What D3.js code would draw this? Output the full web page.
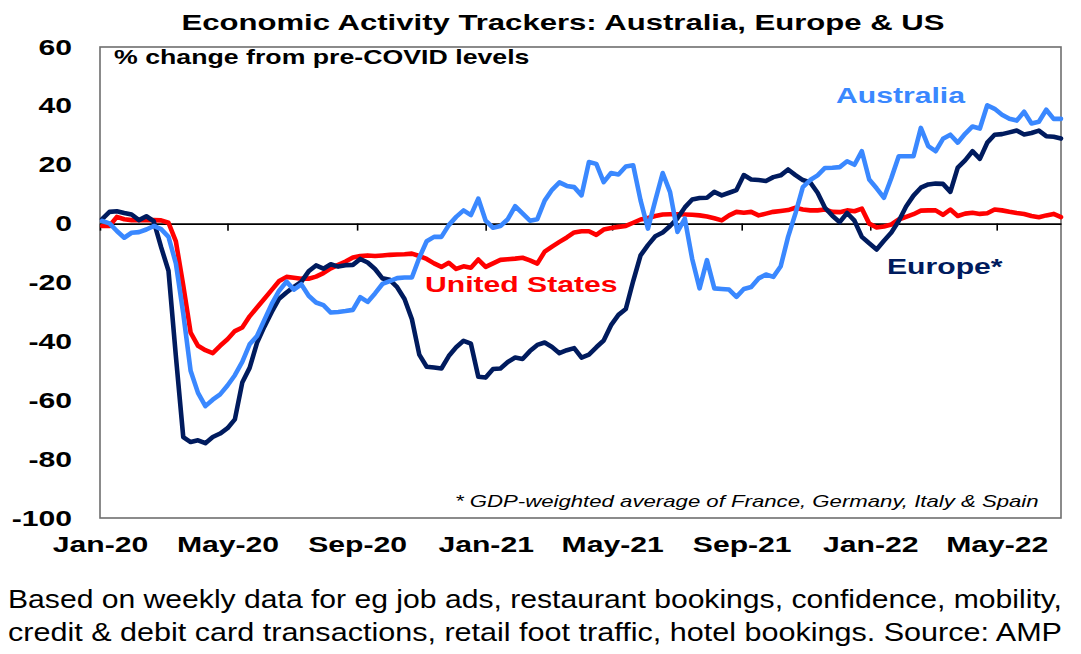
<!DOCTYPE html>
<html>
<head>
<meta charset="utf-8">
<script src="https://cdn.jsdelivr.net/npm/d3@7"></script>
<style>
  body { margin: 0; background: #fff; }
  svg { display: block; }
  text { font-family: "Liberation Sans", Arial, sans-serif; }
</style>
</head>
<body>
<svg width="1081" height="654"></svg>
<script>
"use strict";

// Data: weekly readings, % change from pre-COVID levels
const firstWeek = new Date(2020, 0, 3);

const australia = [
  0.9, 0.1, -2.5, -4.8, -3.1, -2.9, -2, -0.8, -1.9, -4.5,
  -13.5, -30.5, -50, -57.5, -62, -59.8, -58, -55, -51.5, -47,
  -41, -38.2, -32.7, -27.3, -22.8, -19.7, -22.4, -20.6, -24.5, -26.8,
  -27.7, -30.2, -30, -29.7, -29.3, -25, -26.6, -23.7, -20.5, -19.5,
  -18.5, -18.3, -18.3, -11.6, -6, -4.5, -4.5, -0.5, 2.3, 4.5,
  2.9, 8.5, 1, -1.4, -0.8, 1.5, 5.9, 3.5, 1, 1.5,
  7.8, 11.5, 14, 12.8, 12.4, 9.6, 20.9, 20.3, 14.1, 17.2,
  16.7, 19.4, 19.8, 7.9, -1.7, 7.9, 17.2, 10.7, -2.8, 1.7,
  -12, -22, -12.4, -22, -22.2, -22.4, -24.9, -22.2, -21.5, -18.6,
  -17.3, -18.1, -14.5, -4.5, 3.5, 12.4, 14.8, 16.4, 18.9, 19,
  19.2, 21.2, 20, 24.6, 15, 12, 8.8, 15.5, 22.9, 22.9,
  22.9, 32.5, 26.3, 24.6, 28.8, 30.2, 27.5, 30.5, 33, 32.3,
  40.2, 39, 37, 35.6, 35, 38, 34, 34.6, 38.7, 35.6, 35.6
];

const europe = [
  1.5, 4, 4.2, 3.6, 3.1, 1.2, 2.5, 0.8, -8, -16,
  -45, -72.5, -74.2, -73.6, -74.6, -72.5, -71.3, -69.5, -66.5, -54,
  -49, -40.5, -35, -30, -25.5, -23.4, -21.5, -19.8, -16.2, -14.2,
  -15.3, -13.8, -14.6, -14.1, -14, -12, -13.2, -15.4, -18.6, -19.1,
  -21.6, -25.6, -32.5, -44.5, -48.6, -48.9, -49.2, -45, -42, -39.8,
  -40.8, -52, -52.3, -49.4, -49.2, -47, -45.5, -46, -43.3, -41.2,
  -40.4, -41.9, -44, -43, -42.3, -45.5, -44.5, -42, -39.7, -34.5,
  -31, -29, -19.5, -10.8, -7.3, -4.3, -3, -0.8, 1.8, 5.5,
  8.2, 8.7, 8.8, 10.8, 9.6, 10.5, 11.4, 16.5, 15, 14.8,
  14.5, 15.8, 16.4, 18.4, 16.5, 14.8, 14, 10.5, 5.4, 2.7,
  0.5, 3.6, 1, -4.5, -6.7, -8.8, -5.8, -3, 0.9, 5.8,
  9.5, 12.2, 13.3, 13.6, 13.5, 10.8, 19, 21.5, 24.6, 22,
  27.5, 30.2, 30.4, 31, 31.6, 30.3, 30.8, 31.6, 29.7, 29.5, 28.9
];

const unitedStates = [
  -0.8, -0.8, 2.3, 1.5, 1.2, 1.2, 1.2, 1.2, 1.1, 0.3,
  -6, -21, -37, -41.5, -43, -44, -41.5, -39.3, -36.5, -35.3,
  -31.5, -28.5, -25.5, -22.5, -19.5, -18.1, -18.4, -18.7, -18.7, -18,
  -16.8, -15.2, -14, -12.9, -11.5, -11, -10.8, -11, -10.8, -10.6,
  -10.5, -10.4, -10.2, -11, -12, -13.5, -14.7, -13.3, -15.4, -14.5,
  -15, -12.2, -14.7, -13.5, -12.3, -12.1, -11.9, -11.6, -12.5, -13.6,
  -9.5, -7.8, -6.2, -4.7, -3, -2.6, -2.6, -3.8, -2, -1.5,
  -1.1, -0.8, 0.3, 1.4, 1.9, 2.6, 3.1, 3.2, 3.2, 3.1,
  3, 2.8, 2.4, 1.8, 1.1, 2.8, 4, 3.7, 4, 2.8,
  3.4, 4, 4.3, 4.6, 5.4, 4.8, 4.5, 4.5, 4.8, 4,
  3.9, 4.5, 4.2, 5.1, 0, -1.3, -1, -0.3, 1.4, 2.3,
  3.2, 4.4, 4.5, 4.5, 3, 4.8, 2.6, 3.4, 3.7, 3.3,
  3.5, 4.8, 4.5, 4, 3.6, 3.3, 2.6, 2.2, 2.8, 3.3, 2.2
];

const yTicks = [-100, -80, -60, -40, -20, 0, 20, 40, 60];

const dates = australia.map((_, i) => d3.timeDay.offset(firstWeek, 7 * i));

// Sizes and chart options
const plot = { l: 100, r: 1061, t: 47, b: 518 };
const SX = 1.37; // the source chart's text is stretched horizontally
const font = '"Liberation Sans", Arial, sans-serif';

const svg = d3.select("svg");

// Scales
const xScale = d3.scaleTime()
  .domain([new Date(2020, 0, 1), new Date(2022, 6, 1)])
  .range([plot.l, plot.r]);

const yScale = d3.scaleLinear()
  .domain([-100, 60])
  .range([plot.b, plot.t]);

const monthTicks = xScale.ticks(d3.timeMonth.every(4));

// Frame
svg.append("rect")
  .attr("x", plot.l)
  .attr("y", plot.t)
  .attr("width", plot.r - plot.l)
  .attr("height", plot.b - plot.t)
  .attr("fill", "none")
  .attr("stroke", "#6e6e6e")
  .attr("stroke-width", 1.6);

// Y axis labels (plain hyphen for negatives, as in the source)
const yAxis = svg.append("g")
  .attr("transform", `translate(${plot.l}, 0)`)
  .call(d3.axisLeft(yScale).tickValues(yTicks).tickSize(0).tickPadding(28 / SX)
    .tickFormat(d => String(d)));
yAxis.select(".domain").remove();
yAxis.selectAll("text")
  .attr("transform", `scale(${SX},1)`)
  .attr("font-family", font)
  .attr("font-size", 22)
  .attr("font-weight", "bold")
  .attr("fill", "#000");

// Zero line with month ticks
const zeroAxis = svg.append("g")
  .attr("transform", `translate(0, ${yScale(0)})`)
  .call(d3.axisBottom(xScale).tickValues(monthTicks).tickSize(7).tickSizeOuter(0).tickFormat(""));
zeroAxis.select(".domain").attr("stroke", "#000").attr("stroke-width", 1.6);
zeroAxis.selectAll(".tick line").attr("stroke", "#000").attr("stroke-width", 1.6);

// Month labels under the plot
const xAxis = svg.append("g")
  .attr("transform", `translate(0, ${plot.b})`)
  .call(d3.axisBottom(xScale).tickValues(monthTicks).tickSize(0).tickPadding(18)
    .tickFormat(d3.timeFormat("%b-%y")));
xAxis.select(".domain").remove();
xAxis.selectAll("text")
  .attr("transform", `scale(${SX},1)`)
  .attr("font-family", font)
  .attr("font-size", 22)
  .attr("font-weight", "bold")
  .attr("fill", "#000");

// Lines
const line = d3.line()
  .x((d, i) => xScale(dates[i]))
  .y(d => yScale(d));

const series = [
  { name: "United States", values: unitedStates, color: "#ff0000" },
  { name: "Europe*", values: europe, color: "#001b5e" },
  { name: "Australia", values: australia, color: "#3a88ff" }
];

svg.append("g")
  .selectAll("path")
  .data(series)
  .join("path")
    .attr("d", d => line(d.values))
    .attr("fill", "none")
    .attr("stroke", d => d.color)
    .attr("stroke-width", 4.6)
    .attr("stroke-linejoin", "round")
    .attr("stroke-linecap", "round");

// Stretched text helper
function label(x, y, txt, opts) {
  return svg.append("text")
    .attr("transform", `translate(${x}, ${y}) scale(${SX},1)`)
    .attr("font-family", font)
    .attr("font-size", opts.size)
    .attr("font-weight", opts.weight || "bold")
    .attr("font-style", opts.style || "normal")
    .attr("text-anchor", opts.anchor || "start")
    .attr("fill", opts.color || "#000")
    .text(txt);
}

label(563, 30, "Economic Activity Trackers: Australia, Europe & US", { size: 22.7, anchor: "middle" });
label(114, 64, "% change from pre-COVID levels", { size: 19.5 });
label(836, 103, "Australia", { size: 22, color: "#3a88ff" });
label(425, 292, "United States", { size: 22, color: "#ff0000" });
label(887, 274, "Europe*", { size: 22, color: "#001b5e" });
label(455, 507, "* GDP-weighted average of France, Germany, Italy & Spain",
  { size: 16.2, weight: "normal", style: "italic" });

// Source note
const notes = [
  "Based on weekly data for eg job ads, restaurant bookings, confidence, mobility,",
  "credit & debit card transactions, retail foot traffic, hotel bookings. Source: AMP"
];
svg.append("g")
  .selectAll("text")
  .data(notes)
  .join("text")
    .attr("x", 8)
    .attr("y", (d, i) => 608 + i * 33)
    .attr("font-family", font)
    .attr("font-size", 26)
    .attr("textLength", 1054)
    .attr("lengthAdjust", "spacingAndGlyphs")
    .attr("fill", "#000")
    .text(d => d);
</script>
</body>
</html>
